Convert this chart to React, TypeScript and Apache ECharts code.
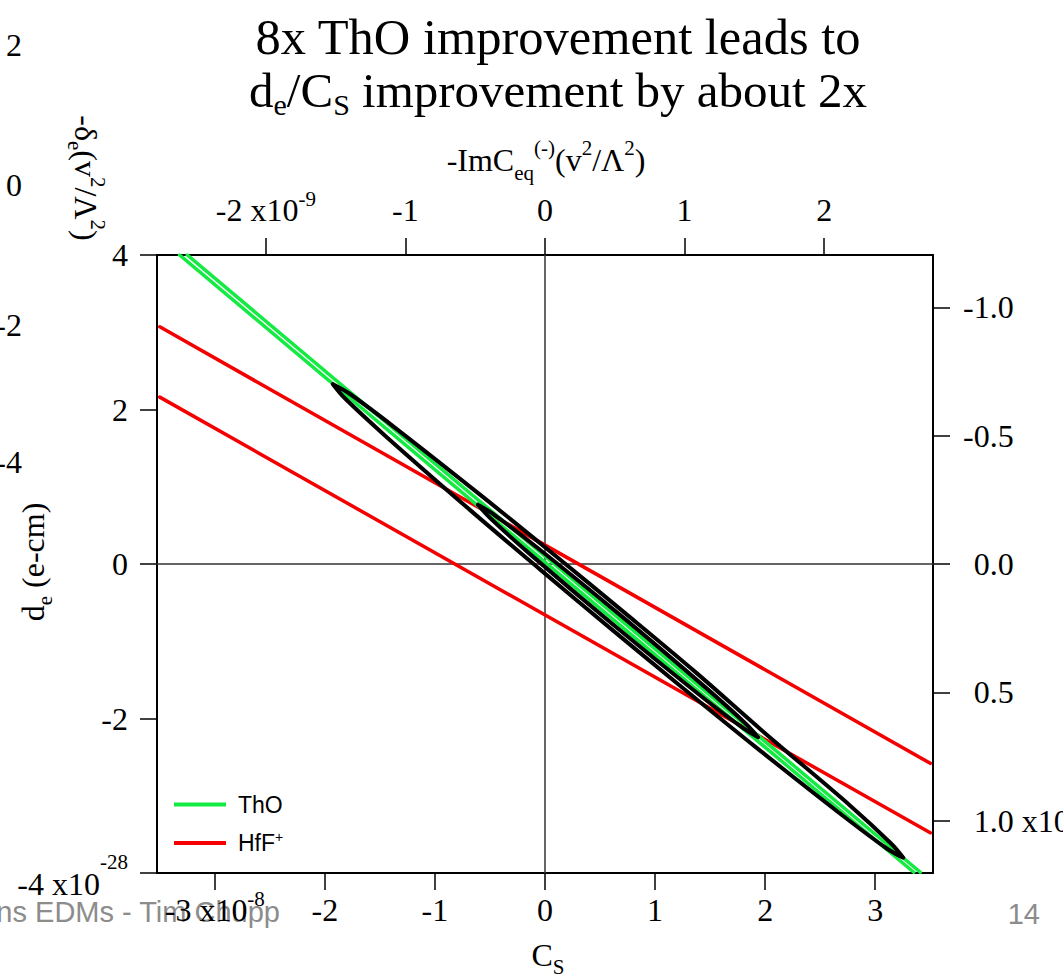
import React, { useEffect, useRef } from 'react';
import * as echarts from 'echarts';

// ---- data ----
const csTicks = [-3, -2, -1, 0, 1, 2, 3]; // C_S (x1e-8), bottom axis
const cEqTicks = [-2, -1, 0, 1, 2]; // -ImC_eq (x1e-9), top axis
const deTicks = [-4, -2, 0, 2, 4]; // d_e (x1e-28), left axis
const deltaTicks = [-1, -0.5, 0, 0.5, 1]; // right axis
const neighbourTicks = ['2', '0', '-2', '-4']; // partial axis of the previous slide panel

const thoLineA = [[-3.32, 4.0], [3.35, -3.99]];
const thoLineB = [[-3.25, 4.0], [3.41, -3.99]];
const hffUpper = [[-3.5, 3.07], [3.5, -2.58]];
const hffLower = [[-3.5, 2.16], [3.5, -3.48]];

const outerContour = [
  [-1.927, 2.328], [-1.778, 2.207], [-1.373, 1.776], [-0.579, 0.885], [0.075, 0.13],
  [0.725, -0.633], [1.37, -1.403], [1.991, -2.18], [2.773, -3.128], [3.144, -3.618],
  [3.255, -3.803], [3.105, -3.683], [2.7, -3.252], [1.906, -2.361], [1.252, -1.605],
  [0.603, -0.843], [-0.043, -0.073], [-0.685, 0.704], [-1.445, 1.652], [-1.816, 2.142],
  [-1.927, 2.328],
];
const innerContour = [
  [-0.609, 0.768], [-0.466, 0.643], [-0.072, 0.214], [0.698, -0.678], [1.455, -1.594],
  [1.824, -2.067], [1.936, -2.243], [1.794, -2.119], [1.399, -1.689], [0.629, -0.797],
  [-0.128, 0.118], [-0.496, 0.592], [-0.609, 0.768],
];
const zeroVertical = [[0, -4], [0, 4]];
const zeroHorizontal = [[-3.525, 0], [3.525, 0]];

const GREEN = '#14eb42';
const RED = '#f40000';
const SERIF = '"Liberation Serif", "Times New Roman", serif';
const SANS = '"Liberation Sans", Arial, sans-serif';
const FS = 32; // tick / axis-title font size
const FSS = 21; // superscript size

const tickRich = {
  n: { fontSize: FS, fontFamily: SERIF, color: '#000', lineHeight: 44 },
  nl: { fontSize: FS, fontFamily: SERIF, color: '#000', lineHeight: 44, padding: [22, 0, 0, 0] },
  p: { fontSize: FS, fontFamily: SERIF, color: '#000', lineHeight: 44, padding: [0, 0, 0, 10.7] },
  sup: { fontSize: FSS, fontFamily: SERIF, color: '#000', verticalAlign: 'top', lineHeight: FSS },
};

const textRich = (size: number, small: number, lh: number) => ({
  m: { fontSize: size, fontFamily: SERIF, fill: '#000', lineHeight: lh },
  b: { fontSize: small, fontFamily: SERIF, fill: '#000', verticalAlign: 'bottom', lineHeight: small },
  p: { fontSize: small, fontFamily: SERIF, fill: '#000', verticalAlign: 'top', lineHeight: small },
});

const lineSeries = (name: string, data: number[][], color: string, width: number, z: number, smooth = false) => ({
  type: 'line',
  name,
  data,
  symbol: 'none',
  showSymbol: false,
  smooth: smooth ? 0.35 : false,
  color,
  itemStyle: { color },
  lineStyle: { color, width, cap: 'round', join: 'round' },
  z,
  silent: true,
  clip: true,
  emphasis: { disabled: true },
});

const axisLineStyle = { color: '#000', width: 2 };
const tickLineStyle = { color: '#000', width: 1.5 };

export default function App() {
  const ref = useRef<HTMLDivElement>(null);
  useEffect(() => {
    document.documentElement.style.overflow = 'hidden';
    document.body.style.overflow = 'hidden';
    document.body.style.margin = '0';
    const chart = echarts.init(ref.current!, null, { renderer: 'svg', width: 1063, height: 979 });
    const option: any = {
      animation: false,
      backgroundColor: '#ffffff',
      grid: { left: 157, top: 255, right: 130, bottom: 106, containLabel: false, outerBoundsMode: 'none' },
      legend: {
        data: ['ThO', 'HfF+'],
        orient: 'vertical',
        left: 174,
        top: 793,
        padding: 0,
        itemGap: 14,
        icon: 'rect',
        itemWidth: 52,
        itemHeight: 4,
        selectedMode: false,
        formatter: (name: string) => (name === 'HfF+' ? '{a|HfF}{s|+}' : '{a|ThO}'),
        textStyle: {
          rich: {
            a: { fontSize: 23, fontFamily: SANS, color: '#000', lineHeight: 26, padding: [0, 0, 0, 7] },
            s: { fontSize: 14, fontFamily: SANS, color: '#000', verticalAlign: 'top', lineHeight: 14 },
          },
        },
      },
      xAxis: [
        {
          type: 'value',
          position: 'bottom',
          min: -3.525,
          max: 3.525,
          axisLine: { show: true, onZero: false, lineStyle: axisLineStyle },
          axisTick: { show: true, inside: false, length: 17, customValues: csTicks, lineStyle: tickLineStyle },
          axisLabel: {
            customValues: csTicks,
            margin: 15,
            fontFamily: SERIF,
            fontSize: FS,
            formatter: (v: number) => (v === -3 ? '{n|-3 x10}{sup|-8}' : '{n|' + v + '}'),
            rich: tickRich,
          },
          splitLine: { show: false },
        },
        {
          type: 'value',
          position: 'top',
          min: -2.78,
          max: 2.78,
          axisLine: { show: true, onZero: false, lineStyle: axisLineStyle },
          axisTick: { show: true, inside: false, length: 17, customValues: cEqTicks, lineStyle: tickLineStyle },
          axisLabel: {
            customValues: cEqTicks,
            margin: 23,
            fontFamily: SERIF,
            fontSize: FS,
            formatter: (v: number) => (v === -2 ? '{n|-2 x10}{sup|-9}' : '{n|' + v + '}'),
            rich: tickRich,
          },
          splitLine: { show: false },
        },
      ],
      yAxis: [
        {
          type: 'value',
          position: 'left',
          min: -4,
          max: 4,
          interval: 2,
          axisLine: { show: true, onZero: false, lineStyle: axisLineStyle },
          axisTick: { show: true, inside: false, length: 17, lineStyle: tickLineStyle },
          axisLabel: {
            margin: 29,
            fontFamily: SERIF,
            fontSize: FS,
            showMinLabel: true,
            showMaxLabel: true,
            formatter: (v: number) => (v === -4 ? '{nl|-4 x10}{sup|-28}' : '{n|' + v + '}'),
            rich: tickRich,
          },
          splitLine: { show: false },
        },
        {
          type: 'value',
          position: 'right',
          min: -1.204,
          max: 1.204,
          inverse: true,
          axisLine: { show: true, onZero: false, lineStyle: axisLineStyle },
          axisTick: { show: true, inside: false, length: 17, customValues: deltaTicks, lineStyle: tickLineStyle },
          axisLabel: {
            customValues: deltaTicks,
            margin: 30,
            fontFamily: SERIF,
            fontSize: FS,
            formatter: (v: number) => {
              const s = v.toFixed(1);
              if (v === 1) return '{p|' + s + '}{n| x10}{sup|-9}';
              return v < 0 ? '{n|' + s + '}' : '{p|' + s + '}';
            },
            rich: tickRich,
          },
          splitLine: { show: false },
        },
      ],
      series: [
        lineSeries('zero-v', zeroVertical, '#333333', 1.5, 1),
        lineSeries('zero-h', zeroHorizontal, '#333333', 1.5, 1),
        lineSeries('HfF+', hffUpper, RED, 3.5, 2),
        lineSeries('HfF+ lower', hffLower, RED, 3.5, 2),
        lineSeries('ThO', thoLineA, GREEN, 3.5, 3),
        lineSeries('ThO B', thoLineB, GREEN, 3.5, 3),
        lineSeries('combined outer', outerContour, '#000000', 4, 4, true),
        lineSeries('combined inner', innerContour, '#000000', 4, 4, true),
      ],
      graphic: [
        {
          type: 'text', x: 558, y: 37,
          style: { text: '{m|8x ThO improvement leads to}', rich: textRich(50.5, 30, 54), textAlign: 'center', textVerticalAlign: 'middle' },
        },
        {
          type: 'text', x: 558, y: 90,
          style: { text: '{m|d}{b|e}{m|/C}{b|S}{m| improvement by about 2x}', rich: textRich(49, 30, 58), textAlign: 'center', textVerticalAlign: 'middle' },
        },
        {
          type: 'text', x: 546, y: 160,
          style: { text: '{m|-ImC}{b|eq}{p|(-)}{m|(v}{p|2}{m|/Λ}{p|2}{m|)}', rich: textRich(FS, FSS, 46), textAlign: 'center', textVerticalAlign: 'middle' },
        },
        {
          type: 'text', x: 548, y: 955,
          style: { text: '{m|C}{b|S}', rich: textRich(FS, FSS, 44), textAlign: 'center', textVerticalAlign: 'middle' },
        },
        {
          type: 'text', x: 33, y: 562, rotation: Math.PI / 2,
          style: { text: '{m|d}{b|e}{m| (e-cm)}', rich: textRich(FS, FSS, 44), textAlign: 'center', textVerticalAlign: 'middle' },
        },
        {
          type: 'text', x: 86, y: 178, rotation: -Math.PI / 2,
          style: { text: '{m|-δ}{b|e}{m|(v}{p|2}{m|/Λ}{p|2}{m|)}', rich: textRich(FS, FSS, 44), textAlign: 'center', textVerticalAlign: 'middle' },
        },
        ...neighbourTicks.map((t, i) => ({
          type: 'text', x: 22, y: [45, 185, 325, 462][i],
          style: { text: t, font: FS + 'px ' + SERIF, fill: '#000', textAlign: 'right', textVerticalAlign: 'middle' },
        })),
        {
          type: 'text', x: 280, y: 912, z: -1,
          style: { text: 'ns EDMs - Tim Chupp', font: '29px ' + SANS, fill: '#8c8c8c', textAlign: 'right', textVerticalAlign: 'middle' },
        },
        {
          type: 'text', x: 1040, y: 914,
          style: { text: '14', font: '29px ' + SANS, fill: '#8c8c8c', textAlign: 'right', textVerticalAlign: 'middle' },
        },
      ],
    };
    chart.setOption(option);
    return () => chart.dispose();
  }, []);
  return (
    <div
      ref={ref}
      style={{ position: 'absolute', left: 0, top: 0, width: 1063, height: 979, background: '#fff' }}
    />
  );
}
